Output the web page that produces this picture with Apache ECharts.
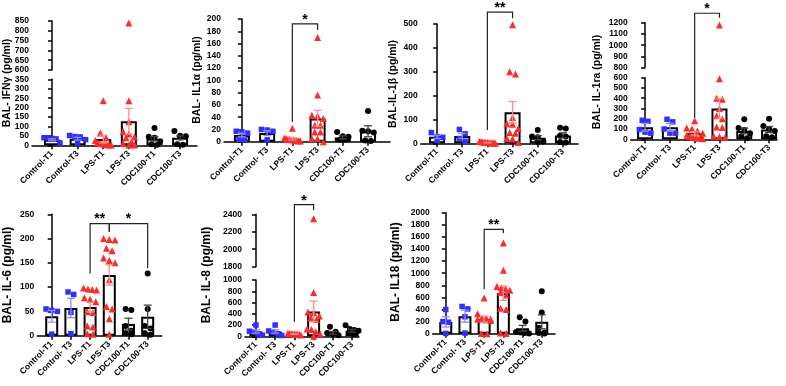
<!DOCTYPE html>
<html>
<head>
<meta charset="utf-8">
<script src="https://cdn.jsdelivr.net/npm/echarts@6/dist/echarts.min.js"></script>
<style>
  html, body { margin: 0; padding: 0; background: #fff; }
  #chart { width: 786px; height: 386px; }
</style>
</head>
<body>
<div id="chart"></div>
<script>
// group names (tick labels)
var groups = ['Control-T1', 'Control-T3', 'LPS-T1', 'LPS-T3', 'CDC100-T1', 'CDC100-T3'];
var groupsSp = ['Control-T1', 'Control- T3', 'LPS-T1', 'LPS-T3', 'CDC100-T1', 'CDC100-T3'];

// IFN-gamma
var ifngPoints = [[40, 40, 36, 34, 12], [52, 46, 44, 30, 10], [236, 65, 40, 25, 15, 10, 8, 5, 3, 2, 1],
  [840, 236, 125, 72, 60, 46, 40, 19, 10, 2, 2], [92, 45, 40, 20, 5, 3], [76, 50, 48, 42, 5, 3]];
var ifngMean = [30, 35, 33, 128, 35, 40];
var ifngSem = [5, 7, 21, 68, 12, 10];
var ifngLow = [0, 350, 50];
var ifngHigh = [600, 850, 50];

// IL-1 alpha
var il1aPoints = [[17, 16, 14, 4, 3], [20, 19, 17, 3], [22, 6, 5, 4, 4, 3, 3, 2, 2, 1, 1],
  [170, 76, 43, 42, 38, 27, 27, 16, 16, 5, 5, 0], [16, 9, 8, 3, 3], [50, 18, 17, 15, 2, 1]];
var il1aMean = [11, 14, 4.5, 38, 7, 17];
var il1aSem = [3, 4, 1.8, 13, 2.5, 9];
var il1aRange = [0, 200, 20];

// IL-1 beta
var il1bPoints = [[45, 28, 25, 12], [58, 40, 20, 8], [8, 6, 5, 4, 3, 3, 2, 2, 1, 1, 0],
  [497, 300, 290, 108, 82, 80, 62, 45, 42, 20, 18, 3], [56, 28, 25, 8, 5], [65, 62, 32, 28, 5, 3]];
var il1bMean = [27, 31, 3, 130, 23, 33];
var il1bSem = [7, 11, 0.8, 45, 9, 11];
var il1bRange = [0, 500, 100];

// IL-1ra
var il1raPoints = [[185, 175, 95, 70, 60], [195, 170, 100, 60, 60], [180, 110, 100, 80, 60, 40, 30, 20, 15, 10, 5],
  [1180, 590, 400, 390, 300, 230, 200, 120, 115, 30, 25, 20], [195, 110, 90, 60, 30, 10], [200, 130, 100, 80, 30, 20]];
var il1raMean = [117, 117, 59, 300, 82, 95];
var il1raSem = [38, 38, 16, 95, 28, 30];
var il1raLow = [0, 600, 100];
var il1raHigh = [800, 1200, 100];

// IL-6
var il6Points = [[55, 52, 50, 3], [90, 85, 48, 4], [98, 96, 95, 94, 78, 75, 70, 50, 48, 20, 18, 4, 3],
  [200, 198, 197, 180, 175, 160, 155, 150, 115, 60, 55, 35, 3], [55, 53, 20, 10, 5, 3], [128, 55, 20, 15, 5, 2]];
var il6Mean = [40, 57, 59, 125, 24, 39];
var il6Sem = [12, 20, 10, 21, 12, 24];
var il6Range = [0, 250, 50];

// IL-8
var il8Points = [[200, 90, 80, 40, 20], [200, 95, 75, 45, 15], [55, 50, 45, 45, 40, 40, 35, 30, 25],
  [2350, 780, 430, 420, 360, 330, 300, 130, 120, 80, 40, 0], [170, 80, 60, 40, 20], [195, 130, 110, 100, 60, 30]];
var il8Mean = [86, 86, 40, 440, 62, 100];
var il8Sem = [30, 30, 4, 185, 25, 24];
var il8Low = [0, 1000, 200];
var il8High = [1800, 2400, 200];

// IL-18
var il18Points = [[400, 200, 190, 5], [450, 410, 280, 10], [590, 330, 260, 250, 245, 240, 235, 230, 220, 5, 0],
  [1500, 1050, 780, 760, 740, 720, 680, 640, 420, 400, 10, 5], [270, 200, 30, 20, 10, 5], [700, 350, 100, 20, 10, 5]];
var il18Mean = [195, 290, 240, 670, 89, 197];
var il18Sem = [85, 100, 48, 120, 48, 115];
var il18Range = [0, 2000, 200];

// significance brackets (group index, values in data units)
var il1aSig = [{ from: 2, to: 3, lowFrom: 32, top: 192, lowTo: 182, label: '*' }];
var il1bSig = [{ from: 2, to: 3, lowFrom: 56, top: 550, lowTo: 524, label: '**' }];
var il1raSig = [{ from: 2, to: 3, lowFrom: 207, top: 1284, lowTo: 1244, label: '*' }];
var il6Sig = [{ from: 2, to: 3, lowFrom: 128, top: 231, lowTo: 214, label: '**' },
  { from: 3, to: 5, lowFrom: 214, top: 231, lowTo: 139, label: '*' }];
var il8Sig = [{ from: 2, to: 3, lowFrom: 260, top: 2510, lowTo: 2449, label: '*' }];
var il18Sig = [{ from: 2, to: 3, lowFrom: 734, top: 1726, lowTo: 1660, label: '**' }];

var FONT = '"Liberation Sans", Arial, sans-serif';
var dotColors = ['#2f2fff', '#2f2fff', '#ff2b2b', '#ff2b2b', '#000', '#000'];
var errColors = ['#8c8cff', '#8c8cff', '#ff8c8c', '#ff8c8c', '#444', '#444'];
var symbols = ['rect', 'rect', 'triangle', 'triangle', 'circle', 'circle'];

var panels = [
  { title: 'BAL- IFNγ (pg/ml)', pts: ifngPoints, mean: ifngMean, sem: ifngSem, labels: groups, sig: [],
    left: 32, right: 197, xmin: -0.78, xmax: 5.66, barW: 16, sym: 6, tx: 7, ty: 83, ts: 10.5,
    segs: [{ top: 79.3, bottom: 145.3, range: ifngLow }, { top: 21, bottom: 70, range: ifngHigh }] },
  { title: 'BAL- IL1α (pg/ml)', pts: il1aPoints, mean: il1aMean, sem: il1aSem, labels: groupsSp, sig: il1aSig,
    left: 224, right: 390, xmin: -0.71, xmax: 5.87, barW: 16, sym: 6, tx: 197, ty: 80, ts: 10.5,
    segs: [{ top: 19, bottom: 141.7, range: il1aRange }] },
  { title: 'BAL-IL-1β (pg/ml)', pts: il1bPoints, mean: il1bMean, sem: il1bSem, labels: groupsSp, sig: il1bSig,
    left: 420.7, right: 578, xmin: -0.65, xmax: 5.6, barW: 16, sym: 6, tx: 393, ty: 84, ts: 10.5,
    segs: [{ top: 24, bottom: 143.3, range: il1bRange }] },
  { title: 'BAL- IL-1ra (pg/ml)', pts: il1raPoints, mean: il1raMean, sem: il1raSem, labels: groupsSp, sig: il1raSig,
    left: 630.7, right: 777, xmin: -0.58, xmax: 5.32, barW: 16, sym: 6, tx: 597, ty: 82, ts: 10.5,
    segs: [{ top: 77.7, bottom: 139.3, range: il1raLow }, { top: 22.7, bottom: 67.7, range: il1raHigh }] },
  { title: 'BAL- IL-6 (pg/ml)', pts: il6Points, mean: il6Mean, sem: il6Sem, labels: groupsSp, sig: il6Sig,
    left: 37.3, right: 161.7, xmin: -0.75, xmax: 5.73, barW: 13, sym: 6, tx: 8, ty: 275, ts: 12,
    segs: [{ top: 214.3, bottom: 335.7, range: il6Range }] },
  { title: 'BAL- IL-8 (pg/ml)', pts: il8Points, mean: il8Mean, sem: il8Sem, labels: groupsSp, sig: il8Sig,
    left: 245, right: 359, xmin: -0.57, xmax: 5.36, barW: 13, sym: 6, tx: 207, ty: 275, ts: 12,
    segs: [{ top: 280, bottom: 336.3, range: il8Low }, { top: 214.3, bottom: 266.7, range: il8High }] },
  { title: 'BAL- IL18 (pg/ml)', pts: il18Points, mean: il18Mean, sem: il18Sem, labels: groupsSp, sig: il18Sig,
    left: 432.7, right: 555, xmin: -0.68, xmax: 5.69, barW: 13, sym: 6, tx: 396, ty: 272, ts: 12,
    segs: [{ top: 212.7, bottom: 333.7, range: il18Range }] }
];

function segOf(p, v) {
  if (p.segs.length > 1 && v >= p.segs[1].range[0]) return 1;
  return 0;
}

// spread points that sit at about the same height into rows (like a scatter dot plot)
function spread(p, vals, gi) {
  var items = vals.slice().sort(function(a, b) { return b - a; }).map(function(v) {
    var k = segOf(p, v), s = p.segs[k];
    var py = s.bottom - (v - s.range[0]) * (s.bottom - s.top) / (s.range[1] - s.range[0]);
    return { v: v, k: k, py: py };
  });
  var rows = [];
  items.forEach(function(it) {
    var row = rows[rows.length - 1];
    if (row && row[0].k === it.k && Math.abs(it.py - row[0].py) < p.sym * 0.9) row.push(it);
    else rows.push([it]);
  });
  var pxPerIdx = (p.right - p.left) / (p.xmax - p.xmin);
  var out = [];
  rows.forEach(function(row) {
    var n = row.length, step = p.sym * 0.95;
    if (n > 1 && (n - 1) * step > p.barW) step = p.barW / (n - 1);
    row.forEach(function(it, j) {
      out.push({ k: it.k, x: gi + (j - (n - 1) / 2) * step / pxPerIdx, v: it.v });
    });
  });
  return out;
}

var grids = [], xAxes = [], yAxes = [], series = [];
var axisStyle = { color: '#000', width: 1.5 };
var idxList = [0, 1, 2, 3, 4, 5];

panels.forEach(function(p) {
  p.segIdx = [];
  p.segs.forEach(function(s, k) {
    var idx = grids.length;
    p.segIdx.push(idx);
    grids.push({ left: p.left, top: s.top, width: p.right - p.left, height: s.bottom - s.top, outerBoundsMode: 'none' });
    xAxes.push({
      gridIndex: idx, type: 'value', min: p.xmin, max: p.xmax, show: k === 0,
      axisLine: { show: true, onZero: false, lineStyle: axisStyle },
      axisTick: { show: true, customValues: idxList, length: 4, lineStyle: axisStyle },
      axisLabel: {
        show: true, customValues: idxList, rotate: 45, margin: 7, fontSize: 8.5, fontWeight: 'bold',
        fontFamily: FONT, color: '#000',
        formatter: function(v) { return p.labels[Math.round(v)]; }
      },
      splitLine: { show: false }
    });
    yAxes.push({
      gridIndex: idx, type: 'value', min: s.range[0], max: s.range[1], interval: s.range[2],
      axisLine: { show: true, lineStyle: axisStyle },
      axisTick: { show: true, length: 4, lineStyle: axisStyle },
      axisLabel: {
        margin: 3, fontSize: 8.5, fontWeight: 'bold', fontFamily: FONT, color: '#000',
        formatter: function(v) { return String(v); }
      },
      splitLine: { show: false }
    });
  });

  var low = p.segIdx[0];
  // bars = group means
  series.push({
    type: 'bar', xAxisIndex: low, yAxisIndex: low, barWidth: p.barW, z: 2,
    data: p.mean.map(function(m, i) { return [i, m]; }),
    itemStyle: { color: '#fff', borderColor: '#000', borderWidth: 2, opacity: 1 }
  });
  // dots
  p.pts.forEach(function(vals, gi) {
    var placed = spread(p, vals, gi);
    p.segs.forEach(function(s, k) {
      var d = placed.filter(function(o) { return o.k === k; }).map(function(o) { return [o.x, o.v]; });
      if (!d.length) return;
      series.push({
        type: 'scatter', xAxisIndex: p.segIdx[k], yAxisIndex: p.segIdx[k], clip: false, z: 3,
        symbol: symbols[gi], symbolSize: symbols[gi] === 'triangle' ? p.sym + 1 : (symbols[gi] === 'rect' ? p.sym - 0.5 : p.sym),
        itemStyle: { color: dotColors[gi], opacity: 1 },
        data: d
      });
    });
  });
  // error bars (mean +/- SEM)
  series.push({
    type: 'custom', xAxisIndex: low, yAxisIndex: low, z: 4, clip: false,
    data: p.mean.map(function(m, i) { return [i, m, p.sem[i], i]; }),
    renderItem: function(params, api) {
      var x = api.value(0), m = api.value(1), s = api.value(2), gi = api.value(3);
      var top = api.coord([x, m + s]), bot = api.coord([x, Math.max(m - s, 0)]);
      var cw = 4;
      var st = { stroke: errColors[gi], lineWidth: 1.3, fill: null };
      return {
        type: 'group', children: [
          { type: 'line', shape: { x1: top[0], y1: top[1], x2: bot[0], y2: bot[1] }, style: st },
          { type: 'line', shape: { x1: top[0] - cw, y1: top[1], x2: top[0] + cw, y2: top[1] }, style: st },
          { type: 'line', shape: { x1: bot[0] - cw, y1: bot[1], x2: bot[0] + cw, y2: bot[1] }, style: st }
        ]
      };
    }
  });
});

var chart = echarts.init(document.getElementById('chart'), null, { renderer: 'canvas' });
chart.setOption({
  animation: false,
  backgroundColor: '#fff',
  grid: grids,
  xAxis: xAxes,
  yAxis: yAxes,
  series: series
});

// brackets, stars and axis titles
var g = [];
panels.forEach(function(p) {
  function px(x, v) {
    var idx = p.segIdx[segOf(p, v)];
    return chart.convertToPixel({ xAxisIndex: idx, yAxisIndex: idx }, [x, v]);
  }
  p.sig.forEach(function(b) {
    var a = px(b.from, b.lowFrom), t1 = px(b.from, b.top), t2 = px(b.to, b.top), d = px(b.to, b.lowTo);
    g.push({ type: 'polyline', z: 10, shape: { points: [a, t1, t2, d] },
      style: { stroke: '#222', lineWidth: 1.2, fill: null } });
    g.push({ type: 'text', z: 10, x: (t1[0] + t2[0]) / 2, y: t1[1] - 4,
      style: { text: b.label, fill: '#000', font: 'bold 14px ' + FONT, align: 'center', verticalAlign: 'middle' } });
  });
  g.push({ type: 'text', x: p.tx, y: p.ty, rotation: Math.PI / 2,
    style: { text: p.title, fill: '#000', font: 'bold ' + p.ts + 'px ' + FONT, align: 'center', verticalAlign: 'middle' } });
});
chart.setOption({ graphic: g });
</script>
</body>
</html>
